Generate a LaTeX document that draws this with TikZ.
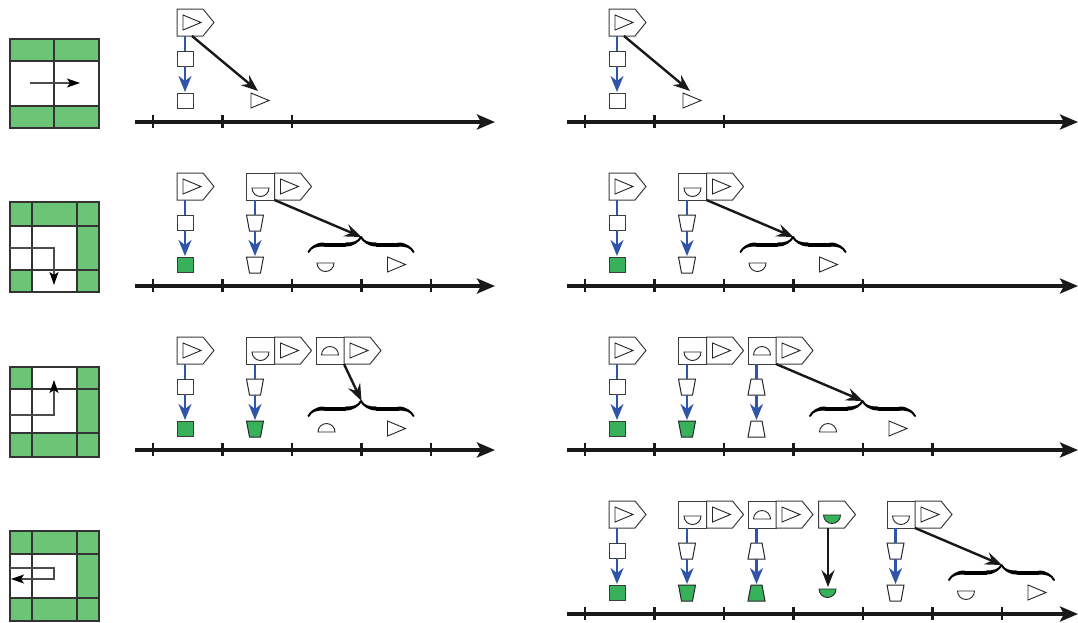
\documentclass[tikz,border=0pt]{standalone}
\usetikzlibrary{arrows.meta,decorations.pathreplacing,calligraphy,calc}
\definecolor{igreen}{RGB}{108,196,118}
\definecolor{sgreen}{RGB}{56,178,90}
\definecolor{tblue}{RGB}{48,84,168}
\definecolor{boxgray}{RGB}{60,60,60}
\tikzset{
 outl/.style={draw=boxgray, line width=1pt, fill=white, line join=miter},
 glyph/.style={draw=black!85, line width=0.9pt},
 sqbox/.style={outl, minimum width=16pt, minimum height=15pt, inner sep=0pt, outer sep=0pt},
 cellbox/.style={outl, minimum width=28pt, minimum height=27pt, inner sep=0pt, outer sep=0pt},
 blueline/.style={draw=tblue, line width=2.3pt},
 bluearrow/.style={blueline, -{Stealth[length=16pt,width=13pt,inset=5pt]}},
 blackarrow/.style={draw=black!90, line width=2.4pt, -{Stealth[length=17pt,width=13pt,inset=6pt]}},
 axis/.style={draw=black!90, line width=3.5pt, -{Stealth[length=18pt,width=15pt,inset=4pt]}},
 tickmark/.style={draw=black!90, line width=2.8pt},
 bracestyle/.style={decorate, decoration={calligraphic brace, amplitude=15pt}, line width=4pt, pen colour={black}},
 gridline/.style={draw=black!80, line width=1.3pt},
 route/.style={draw=black!70, line width=1.1pt},
 routearrow/.style={route, -{Stealth[length=13pt,width=9pt,inset=3pt,color=black]}},
}
\newcommand\tri[2]{\draw[glyph] (#1,#2) -- ++(18,7.5) -- ++(-18,7.5) -- cycle;}
\newcommand\bowl[3][]{\draw[glyph,#1] (#2-8.5,#3) arc[start angle=180, end angle=0, radius=8.5] -- cycle;}
\newcommand\dome[3][]{\draw[glyph,#1] (#2-8.5,#3) arc[start angle=180, end angle=360, radius=8.5] -- cycle;}
\newcommand\pent[1]{\draw[outl] (#1,-113) -- ++(26,0) -- ++(11,13.5) -- ++(-11,13.5) -- ++(-26,0) -- cycle;}
\newcommand\trapW[2]{\draw[outl, draw=black!85, fill=#2] (24,#1) -- (41,#1) -- (38,#1+16) -- (27,#1+16) -- cycle;}
\newcommand\trapN[2]{\draw[outl, draw=black!85, fill=#2] (27,#1) -- (38,#1) -- (41,#1+16) -- (24,#1+16) -- cycle;}
\newcommand\singlestack[2]{%
 \pent{24}\tri{30}{-107}
 \node[sqbox, anchor=north west] (#1a) at (24,-71) {};
 \node[sqbox, anchor=north west, fill=#2] (#1b) at (24,-29) {};
 \coordinate (#1t) at (32,-86);
 \draw[blueline] (#1t) -- (#1a.north);
 \draw[bluearrow, shorten >=1pt] (#1a.south) -- (#1b.north);
}
\newcommand\trapstack[4]{%
 #2{-71}{#3}
 #2{-29}{#4}
 \coordinate (#1t) at (32.5,-86);
 \coordinate (#1a) at (32.5,-71);
 \coordinate (#1b) at (32.5,-55);
 \coordinate (#1c) at (32.5,-30);
 \draw[blueline] (#1t) -- (#1a);
 \draw[bluearrow] (#1b) -- (#1c);
}
\newcommand\dbox[2]{%
 \node[cellbox, anchor=north west] (#1box) at (24,-113) {};
 \pent{52}\tri{58}{-107}
 #2
 \coordinate (#1s) at (52,-86);
}
\newcommand\bracegrp[2]{%
 \draw[bracestyle] (#2-53,-34) -- (#2+52,-34);
 \coordinate (#1) at (#2,-49);
 \tri{#2+26}{-29}
}
\newcommand\timeline[5]{%
 \coordinate (#1s) at (#3,#2); \coordinate (#1e) at (#4,#2);
 \draw[axis] (#1s) -- (#1e);
 \foreach \tx in {#5} {\draw[tickmark] (\tx,#2-7) -- (\tx,#2+6);}
}
\begin{document}
\begin{tikzpicture}[x=1pt,y=-1pt]
\useasboundingbox (0,0) rectangle (1078,622);
% ---------- icons ----------
\fill[igreen] (10,39) rectangle (99,61);
\fill[igreen] (10,106) rectangle (99,128);
\draw[gridline] (10,39) rectangle (99,128) (10,61) -- (99,61) (10,106) -- (99,106) (54,39) -- (54,128);
\coordinate (i1a) at (30,83); \coordinate (i1b) at (80,83);
\draw[routearrow] (i1a) -- (i1b);

\fill[igreen] (10,202) rectangle (99,226);
\fill[igreen] (77,226) rectangle (99,270);
\fill[igreen] (10,270) rectangle (32,292);
\fill[igreen] (77,270) rectangle (99,292);
\draw[gridline] (10,202) rectangle (99,292) (10,226) -- (99,226) (10,270) -- (99,270) (32,202) -- (32,292) (77,202) -- (77,292);
\coordinate (i2a) at (10,248); \coordinate (i2b) at (54,285);
\draw[routearrow] (i2a) -- (54,248) -- (i2b);

\fill[igreen] (10,367) rectangle (32,389);
\fill[igreen] (77,367) rectangle (99,389);
\fill[igreen] (77,389) rectangle (99,433);
\fill[igreen] (10,433) rectangle (99,457);
\draw[gridline] (10,367) rectangle (99,457) (10,389) -- (99,389) (10,433) -- (99,433) (32,367) -- (32,457) (77,367) -- (77,457);
\coordinate (i3a) at (10,415); \coordinate (i3b) at (54,380);
\draw[routearrow] (i3a) -- (54,415) -- (i3b);

\fill[igreen] (10,531) rectangle (99,554);
\fill[igreen] (77,554) rectangle (99,598);
\fill[igreen] (10,598) rectangle (99,621);
\draw[gridline] (10,531) rectangle (99,621) (10,554) -- (99,554) (10,598) -- (99,598) (32,531) -- (32,621) (77,531) -- (77,621);
\coordinate (i4a) at (10,568); \coordinate (i4b) at (11,579);
\draw[routearrow] (i4a) -- (54,568) -- (54,579) -- (i4b);

% ---------- timelines ----------
\timeline{LA}{122}{135}{495}{153,222.5,292}
\timeline{LB}{286}{135}{495}{153,222.5,292,361.5,431}
\timeline{LC}{450}{135}{495}{153,222.5,292,361.5,431}
\timeline{RA}{122}{567}{1078}{585,654.5,724}
\timeline{RB}{286}{567}{1078}{585,654.5,724,793.5,863}
\timeline{RC}{450}{567}{1078}{585,654.5,724,793.5,863,932.5}
\timeline{RD}{614}{567}{1078}{585,654.5,724,793.5,863,932.5,1002}

% ---------- left row 1 ----------
\begin{scope}[shift={(153,122)}]
 \singlestack{LAa}{white}
 \coordinate (LAa0) at (39,-86); \coordinate (LAa1) at (105,-31);
 \draw[blackarrow] (LAa0) -- (LAa1);
 \tri{98}{-29}
\end{scope}
% ---------- right row 1 ----------
\begin{scope}[shift={(585,122)}]
 \singlestack{RAa}{white}
 \coordinate (RAa0) at (39,-86); \coordinate (RAa1) at (105,-31);
 \draw[blackarrow] (RAa0) -- (RAa1);
 \tri{98}{-29}
\end{scope}
% ---------- left row 2 ----------
\begin{scope}[shift={(153,286)}]
 \singlestack{LBa}{sgreen}
\end{scope}
\begin{scope}[shift={(222.5,286)}]
 \dbox{LBb}{\bowl{38}{-98}}
 \trapstack{LBb}{\trapW}{white}{white}
 \bracegrp{LBtip}{139}
 \bowl{103}{-23}
 \draw[blackarrow] (LBbs) -- (LBtip);
\end{scope}
% ---------- right row 2 ----------
\begin{scope}[shift={(585,286)}]
 \singlestack{RBa}{sgreen}
\end{scope}
\begin{scope}[shift={(654.5,286)}]
 \dbox{RBb}{\bowl{38}{-98}}
 \trapstack{RBb}{\trapW}{white}{white}
 \bracegrp{RBtip}{139}
 \bowl{103}{-23}
 \draw[blackarrow] (RBbs) -- (RBtip);
\end{scope}
% ---------- left row 3 ----------
\begin{scope}[shift={(153,450)}]
 \singlestack{LCa}{sgreen}
\end{scope}
\begin{scope}[shift={(222.5,450)}]
 \dbox{LCb}{\bowl{38}{-98}}
 \trapstack{LCb}{\trapW}{white}{sgreen}
\end{scope}
\begin{scope}[shift={(292,450)}]
 \dbox{LCc}{\dome{38}{-95}}
 \bracegrp{LCtip}{69.5}
 \dome{34.5}{-18}
 \draw[blackarrow] (LCcs) -- (LCtip);
\end{scope}
% ---------- right row 3 ----------
\begin{scope}[shift={(585,450)}]
 \singlestack{RCa}{sgreen}
\end{scope}
\begin{scope}[shift={(654.5,450)}]
 \dbox{RCb}{\bowl{38}{-98}}
 \trapstack{RCb}{\trapW}{white}{sgreen}
\end{scope}
\begin{scope}[shift={(724,450)}]
 \dbox{RCc}{\dome{38}{-95}}
 \trapstack{RCc}{\trapN}{white}{white}
 \bracegrp{RCtip}{139}
 \dome{104}{-18}
 \draw[blackarrow] (RCcs) -- (RCtip);
\end{scope}
% ---------- right row 4 ----------
\begin{scope}[shift={(585,614)}]
 \singlestack{RDa}{sgreen}
\end{scope}
\begin{scope}[shift={(654.5,614)}]
 \dbox{RDb}{\bowl{38}{-98}}
 \trapstack{RDb}{\trapW}{white}{sgreen}
\end{scope}
\begin{scope}[shift={(724,614)}]
 \dbox{RDc}{\dome{38}{-95}}
 \trapstack{RDc}{\trapN}{white}{sgreen}
\end{scope}
\begin{scope}[shift={(793.5,614)}]
 \pent{25}
 \bowl[fill=sgreen]{38.5}{-99}
 \coordinate (RDdt) at (34.5,-86); \coordinate (RDdb) at (34.5,-27);
 \draw[blackarrow] (RDdt) -- (RDdb);
 \bowl[fill=sgreen]{34}{-25}
\end{scope}
\begin{scope}[shift={(863,614)}]
 \dbox{RDe}{\bowl{38}{-98}}
 \trapstack{RDe}{\trapW}{white}{white}
 \bracegrp{RDtip}{139}
 \bowl{103}{-23}
 \draw[blackarrow] (RDes) -- (RDtip);
\end{scope}
\end{tikzpicture}
\end{document}
